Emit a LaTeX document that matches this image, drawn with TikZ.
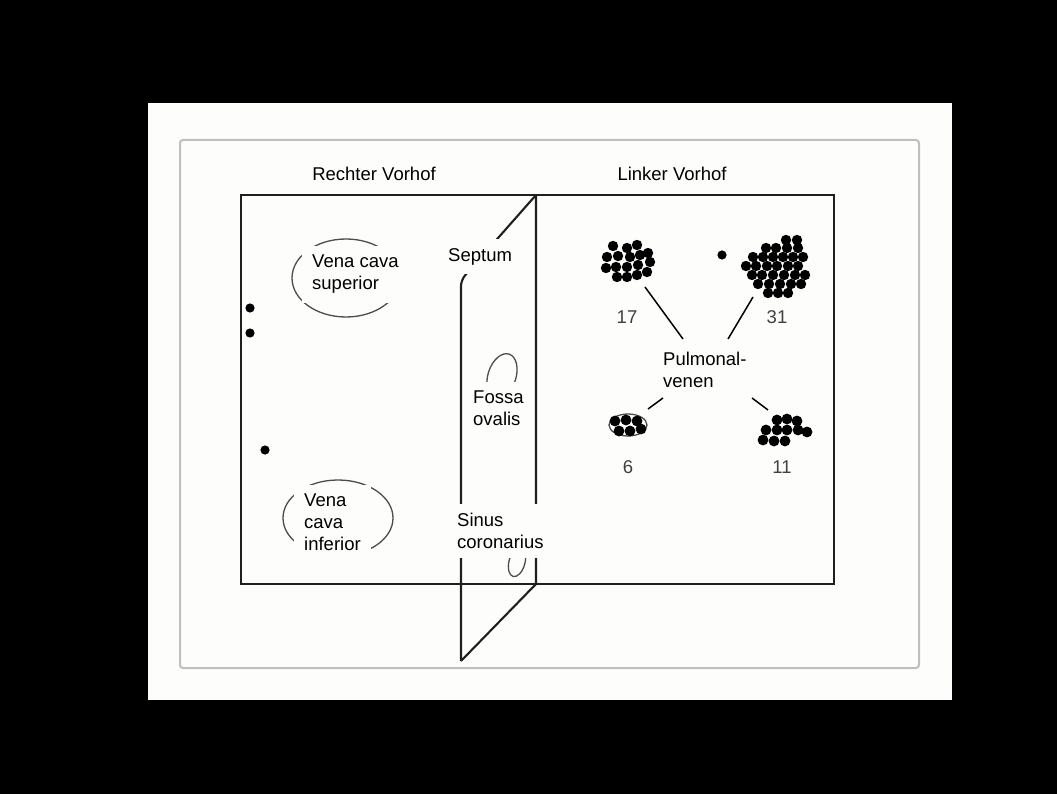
\documentclass[tikz,border=0pt]{standalone}
\usepackage{fontspec}
\setmainfont{Liberation Sans}
\definecolor{paper}{RGB}{253,253,251}
\begin{document}
\begin{tikzpicture}[x=1pt,y=-1pt,
  wall/.style={draw=black!88, line width=2.1pt},
  vessel/.style={draw=black!70, line width=1.3pt},
  dot/.style={fill=black},
  lbl/.style={fill=paper, align=left, inner xsep=10pt, inner ysep=9pt, anchor=north west,
              font=\fontsize{18.5}{22}\selectfont},
  head/.style={anchor=base, font=\fontsize{18.5}{22}\selectfont},
  num/.style={anchor=base, text=black!75, font=\fontsize{18.5}{22}\selectfont},
  link/.style={draw=black, line width=1.5pt}]
% page and panel
\fill[black] (0,0) rectangle (1057,794);
\useasboundingbox (0,0) rectangle (1057,794);
\fill[paper] (148,103) rectangle (952,700);
\draw[black!25, line width=2pt, rounded corners=3pt] (180,140) rectangle (919,668);

% atria outline
\draw[wall] (241,195) rectangle (834,584);
% septum plane
\draw[wall] (536,195) -- (536,584) -- (461,661);
\draw[wall, rounded corners=6pt] (461,661) -- (461,280) -- (536,195);

% vessel openings
\draw[vessel] (346,278) ellipse [x radius=54, y radius=39];
\draw[vessel] (338,518) ellipse [x radius=55, y radius=38];
\draw[vessel, rotate around={-18:(502,376)}] (502,376) ellipse [x radius=14, y radius=23];
\draw[vessel, rotate around={-15:(517,562)}] (517,562) ellipse [x radius=8, y radius=15];

% single dots
\foreach \p in {(250,308),(250,333),(265,450),(722,255)}
  \fill[dot] \p circle (4.6);

% cluster of 17
\foreach \p in {(613,246),(627,248),(637,245),(648,253),(607,257),(618,256),(630,257),(640,255),(650,262),
                (606,268),(616,267),(627,267),(638,265),(647,272),(617,277),(627,277),(637,275)}
  \fill[dot] \p circle (5.2);
% cluster of 31
\foreach \p in {(786,240),(797,240),
                (766,248),(776,248),(787,248),(798,248),
                (753,257),(763,257),(773,257),(783,257),(793,257),(803,257),
                (746,266),(756,266),(767,266),(777,266),(788,266),(798,266),
                (752,275),(762,275),(773,275),(784,275),(795,275),(805,275),
                (758,284),(769,284),(780,284),(791,284),(801,284),
                (768,293),(778,293),(788,293)}
  \fill[dot] \p circle (5.2);
% cluster of 6
\draw[vessel] (628,425) ellipse [x radius=19, y radius=11];
\foreach \p in {(615,421),(626,420),(637,421),(619,431),(630,431),(641,429)}
  \fill[dot] \p circle (5.4);
% cluster of 11
\foreach \p in {(777,420),(787,419),(797,421),(766,430),(777,430),(787,430),(798,430),(807,432),
                (763,440),(774,441),(785,441)}
  \fill[dot] \p circle (5.4);

% labels
\node[head] (ra) at (374,181) {Rechter Vorhof};
\node[head] (la) at (672,181) {Linker Vorhof};
\node[lbl] (vcs) at (302,246) {Vena cava\\superior};
\node[lbl] (sep) at (438,239) {Septum};
\node[lbl] (fo) at (463,382) {Fossa\\ovalis};
\node[lbl] (vci) at (294,485) {Vena\\cava\\inferior};
\node[lbl] (sc) at (447,504) {Sinus\\coronarius};
\node[lbl] (pv) at (653,343) {Pulmonal-\\venen};

\node[num] (n17) at (627,323) {17};
\node[num] (n31) at (777,323) {31};
\node[num] (n6) at (628,473) {6};
\node[num] (n11) at (782,473) {11};

% leader lines from the vein groups to the label
\coordinate (e17) at (645,287);
\coordinate (e31) at (753,297);
\coordinate (e6) at (648,409);
\coordinate (e11) at (768,410);
\coordinate (p17) at (683,339);
\coordinate (p31) at (728,339);
\coordinate (p6) at (663,398);
\coordinate (p11) at (752,398);
\draw[link] (e17) -- (p17);
\draw[link] (e31) -- (p31);
\draw[link] (e6) -- (p6);
\draw[link] (e11) -- (p11);
\end{tikzpicture}
\end{document}
